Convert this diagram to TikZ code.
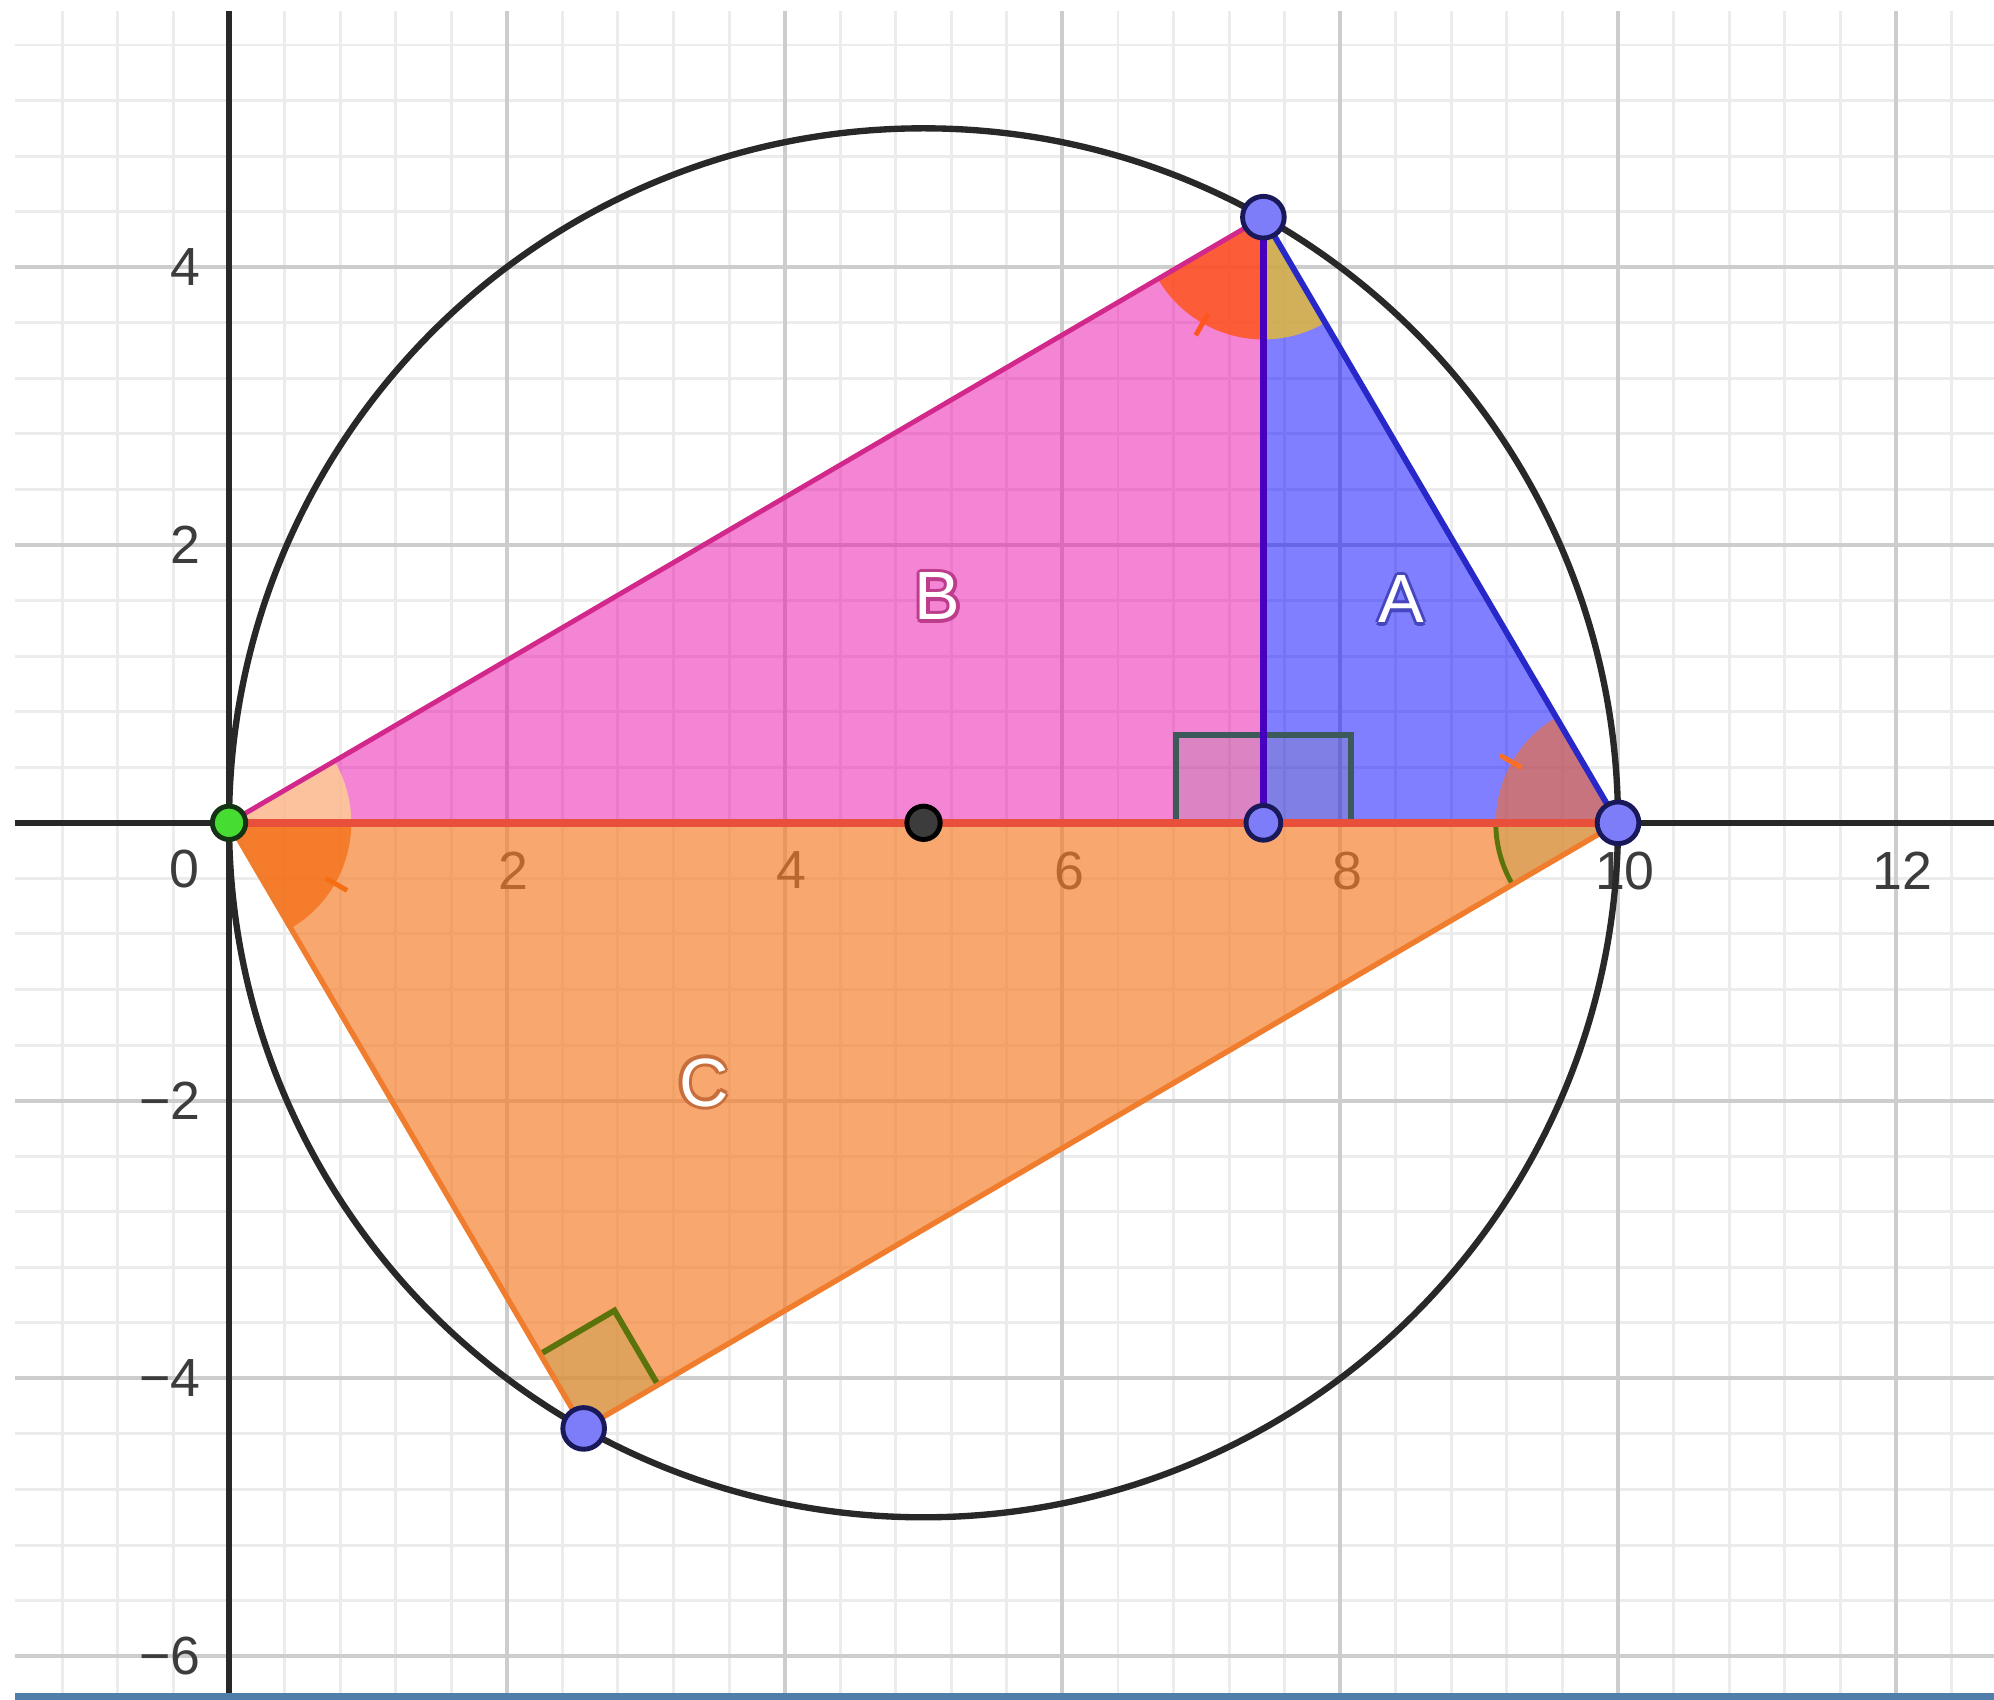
\documentclass[tikz,border=0pt]{standalone}
\usepackage{fontspec}
\setmainfont{Liberation Sans}
\usetikzlibrary{calc}

\definecolor{gridminor}{RGB}{236,236,236}
\definecolor{gridmajor}{RGB}{205,205,205}
\definecolor{axisgray}{RGB}{40,40,40}
\definecolor{ticktext}{RGB}{60,60,60}
\definecolor{fillA}{RGB}{0,0,255}
\definecolor{fillB}{RGB}{235,10,170}
\definecolor{fillC}{RGB}{246,125,40}
\definecolor{edgeA}{RGB}{40,40,200}
\definecolor{edgeB}{RGB}{210,40,140}
\definecolor{edgeH}{RGB}{70,0,190}
\definecolor{edgeBase}{RGB}{232,80,60}
\definecolor{edgeC}{RGB}{240,125,45}
\definecolor{ptblue}{RGB}{125,125,250}
\definecolor{ptnavy}{RGB}{25,25,90}
\definecolor{ptgreen}{RGB}{70,220,50}
\definecolor{ptdark}{RGB}{20,50,20}
\definecolor{ptcenter}{RGB}{60,60,60}
\definecolor{angPeach}{RGB}{255,215,140}
\definecolor{angOrange}{RGB}{245,110,20}
\definecolor{angRed}{RGB}{255,85,30}
\definecolor{angGold}{RGB}{225,185,60}
\definecolor{angRose}{RGB}{250,110,40}
\definecolor{angTan}{RGB}{200,160,80}
\definecolor{angOlive}{RGB}{90,115,10}
\definecolor{squaregray}{RGB}{60,90,90}
\definecolor{barblue}{RGB}{80,125,170}
\definecolor{haloA}{RGB}{70,70,190}
\definecolor{haloB}{RGB}{190,60,140}
\definecolor{haloC}{RGB}{200,110,60}

\begin{document}
\begin{tikzpicture}[
        minorgrid/.style={draw=gridminor, line width=0.6pt},
        majorgrid/.style={draw=gridmajor, line width=0.8pt},
        axisline/.style={draw=axisgray, line width=1.2pt},
        ticklabel/.style={font=\fontsize{11}{13}\selectfont, text=ticktext, inner sep=0pt},
        circleline/.style={draw=axisgray, line width=1.3pt},
        region/.style={fill=#1, fill opacity=0.5},
        sector/.style={fill=#1, fill opacity=0.75},
        anglemark/.style={draw=#1, line width=1pt},
        rightsquare/.style={draw=squaregray, line width=1.2pt, fill=gray, fill opacity=0.2},
        freepoint/.style={circle, draw=ptnavy, fill=ptblue, line width=1pt, minimum size=0.3cm, inner sep=0pt},
        footpoint/.style={freepoint, minimum size=0.25cm},
        startpoint/.style={circle, draw=ptdark, fill=ptgreen, line width=1pt, minimum size=0.24cm, inner sep=0pt},
        centerpoint/.style={circle, draw=black, fill=ptcenter, line width=1pt, minimum size=0.24cm, inner sep=0pt},
        arealabel/.style={font=\fontsize{14}{16}\selectfont, text=white, inner sep=0pt}
    ]
        \useasboundingbox (-1.649,-6.315) rectangle (12.707,5.924);
        \fill[white] (-1.649,-6.315) rectangle (12.707,5.924);
        \draw[minorgrid, step=0.4] (-1.54,-6.27) grid (12.707,5.845);
        \draw[majorgrid, step=2] (-1.54,-6.27) grid (12.707,5.845);
        \draw[axisline] (-1.54,0) -- (12.707,0);
        \draw[axisline] (0,-6.27) -- (0,5.845);
        \fill[barblue] (-1.54,-6.315) rectangle (12.707,-6.265);

        \node[ticklabel] (x0) at (-0.32,-0.335) {0};
        \foreach \x in {2,4,...,12}
            \node[ticklabel, anchor=north] (x\x) at (\x+0.05,-0.2) {\x};
        \foreach \y/\t in {4/4, 2/2, -2/−2, -4/−4, -6/−6}
            \node[ticklabel, anchor=east] (y\y) at (-0.2,\y) {\t};

        \coordinate (O) at (0,0);
        \coordinate (M) at (5,0);
        \coordinate (R) at (10,0);
        \coordinate (T) at ($(M)+(60.7:5)$);
        \coordinate (S) at ($(M)+(240.7:5)$);
        \coordinate (F) at (T |- O);

        \draw[circleline] (M) circle[radius=5];

        \fill[fillC, fill opacity=0.67] (O) -- (S) -- (R) -- cycle;
        \fill[region=fillB] (O) -- (T) -- (F) -- cycle;
        \fill[region=fillA] (F) -- (T) -- (R) -- cycle;

        \fill[sector=angPeach] (O) -- ++(0:0.88) arc[start angle=0, end angle=30.35, radius=0.88] -- cycle;
        \fill[sector=angOrange] (O) -- ++(-59.65:0.88) arc[start angle=-59.65, end angle=0, radius=0.88] -- cycle;
        \draw[anglemark=angOrange] ($(O)+(-29.8:0.8)$) -- ($(O)+(-29.8:0.98)$);
        \fill[sector=angRed, fill opacity=0.85] (T) -- ++(210.35:0.88) arc[start angle=210.35, end angle=270, radius=0.88] -- cycle;
        \draw[anglemark=angRed] ($(T)+(240.2:0.8)$) -- ($(T)+(240.2:0.98)$);
        \fill[sector=angGold, fill opacity=0.85] (T) -- ++(270:0.88) arc[start angle=270, end angle=300.35, radius=0.88] -- cycle;
        \fill[sector=angRose, fill opacity=0.6] (R) -- ++(120.35:0.88) arc[start angle=120.35, end angle=180, radius=0.88] -- cycle;
        \draw[anglemark=angRose] ($(R)+(150.2:0.8)$) -- ($(R)+(150.2:0.98)$);
        \fill[sector=angTan, fill opacity=0.5] (R) -- ++(180:0.88) arc[start angle=180, end angle=210.35, radius=0.88] -- cycle;
        \draw[anglemark=angOlive] ($(R)+(180:0.88)$) arc[start angle=180, end angle=210.35, radius=0.88];

        \fill[angTan, fill opacity=0.5] (S) -- ++(120.35:0.62) -- ++(30.35:0.62) -- ++(-59.65:0.62) -- cycle;
        \draw[angOlive, line width=1.2pt] ($(S)+(120.35:0.62)$) -- ++(30.35:0.62) -- ++(-59.65:0.62);
        \draw[rightsquare] (F) rectangle ++(-0.63,0.63);
        \draw[rightsquare] (F) rectangle ++(0.63,0.63);

        \draw[edgeC, line width=1.1pt] (O) -- (S) -- (R);
        \draw[edgeBase, line width=1.6pt] (O) -- (R);
        \draw[edgeB, line width=1pt] (O) -- (T);
        \draw[edgeA, line width=1.2pt] (T) -- (R);
        \draw[edgeH, line width=1.4pt] (T) -- (F);

        \node[startpoint] (ptO) at (O) {};
        \node[centerpoint] (ptM) at (M) {};
        \node[footpoint] (ptF) at (F) {};
        \node[freepoint] (ptR) at (R) {};
        \node[freepoint] (ptT) at (T) {};
        \node[freepoint] (ptS) at (S) {};

        \coordinate (cA) at (8.44,1.61);
        \coordinate (cB) at (5.1,1.63);
        \coordinate (cC) at (3.42,-1.87);
        \foreach \a in {0,45,...,315} {
            \node[arealabel, text=haloA] (haloA-\a) at ($(cA)+(\a:0.7pt)$) {A};
            \node[arealabel, text=haloB] (haloB-\a) at ($(cB)+(\a:0.7pt)$) {B};
            \node[arealabel, text=haloC] (haloC-\a) at ($(cC)+(\a:0.7pt)$) {C};
        }
        \node[arealabel] (labelA) at (cA) {A};
        \node[arealabel] (labelB) at (cB) {B};
        \node[arealabel] (labelC) at (cC) {C};
    \end{tikzpicture}
\end{document}
